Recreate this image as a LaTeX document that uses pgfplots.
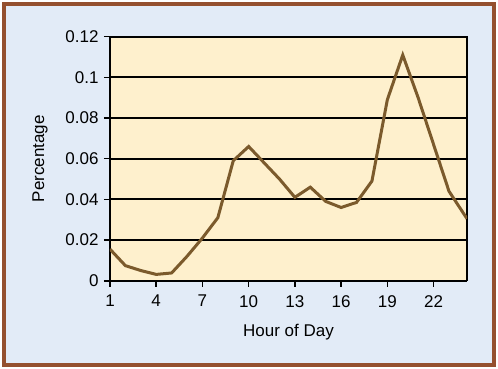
\documentclass[border=0pt]{standalone}
\usepackage{pgfplots}
\pgfplotsset{compat=1.18}
\usepackage{fontspec}
\setmainfont{Liberation Sans}
\definecolor{bgblue}{HTML}{E2EBF7}
\definecolor{plotyel}{HTML}{FEF0CD}
\definecolor{framebrown}{HTML}{94502F}
\definecolor{linebrown}{HTML}{7B5A2C}
\begin{document}
\begin{tikzpicture}[font=\fontsize{17bp}{20bp}\selectfont]
\path[use as bounding box, fill=white] (-110bp,-88.3bp) rectangle (388bp,280.7bp);
\filldraw[fill=bgblue, draw=framebrown, line width=4bp] (-105.5bp,-84.3bp) rectangle (384bp,276.2bp);
\begin{axis}[
  at={(0bp,0bp)}, anchor=south west,
  scale only axis, width=357bp, height=244bp,
  xmin=1, xmax=24.17, ymin=0, ymax=0.12,
  axis background/.style={fill=plotyel},
  xtick={1,4,7,10,13,16,19,22},
  xticklabels={1,4,7,10,13,16,19,22},
  ytick={0,0.02,0.04,0.06,0.08,0.1,0.12},
  yticklabels={0,0.02,0.04,0.06,0.08,0.1,0.12},
  xtick pos=bottom, ytick pos=left,
  tick align=outside,
  major tick length=6bp,
  tick style={black, line width=1.6bp},
  axis line style={black, line width=1.5bp},
  ymajorgrids, grid style={black, line width=1.8bp},
  ticklabel style={font=\fontsize{17bp}{20bp}\selectfont},
  label style={font=\fontsize{17bp}{20bp}\selectfont},
  xticklabel style={yshift=-5bp},
  yticklabel style={xshift=-2bp},
  xlabel={Hour of Day},
  ylabel={Percentage},
  xlabel style={at={(axis description cs:0.5,-0.21)}, anchor=center},
  ylabel style={at={(axis description cs:-0.196,0.5)}, anchor=center},
]
\addplot[linebrown, line width=3bp, line join=miter] coordinates {
(1,0.0155) (2,0.0074) (3,0.005) (4,0.0031) (5,0.0038) (6,0.012) (7,0.021)
(8,0.031) (9,0.059) (10,0.066) (11,0.058) (12,0.050) (13,0.041) (14,0.046)
(15,0.039) (16,0.036) (17,0.0385) (18,0.049) (19,0.089) (20,0.111)
(21,0.090) (22,0.067) (23,0.044) (24.17,0.0305)
};
\end{axis}
\end{tikzpicture}
\end{document}
